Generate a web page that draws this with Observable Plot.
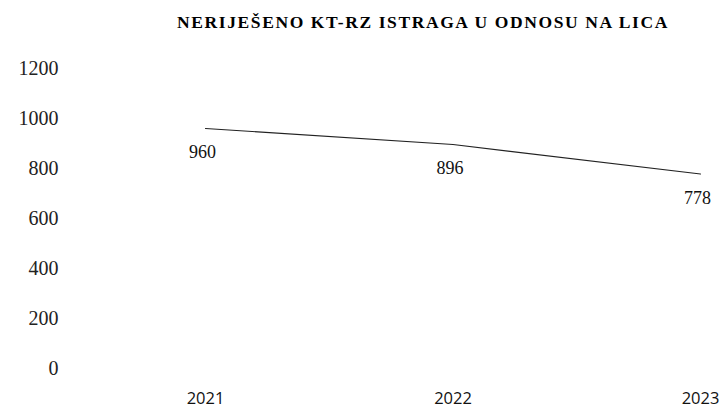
<!DOCTYPE html>
<html><head><meta charset="utf-8">
<script src="https://cdn.jsdelivr.net/npm/d3@7"></script>
<script src="https://cdn.jsdelivr.net/npm/@observablehq/plot@0.6"></script>
<style>
body{margin:0;background:#fff;width:725px;height:411px;overflow:hidden;position:relative}
#title{position:absolute;top:12px;left:0;width:725px;box-sizing:border-box;padding-left:121px;text-align:center;font-family:"Liberation Serif",serif;font-weight:bold;font-size:17.5px;line-height:20px;color:#000;letter-spacing:1.6px;white-space:nowrap}
</style></head><body>
<div id="chart"></div>
<div id="title">NERIJEŠENO KT-RZ ISTRAGA U ODNOSU NA LICA</div>
<script>
const years = [2021, 2022, 2023];
const values = [960, 896, 778];
const yTicks = [0, 200, 400, 600, 800, 1000, 1200];
const data = years.map((y, i) => ({year: y, value: values[i]}));
const chart = Plot.plot({
  width: 725, height: 411,
  marginTop: 68, marginBottom: 43, marginLeft: 205, marginRight: 25,
  x: {domain: [2021, 2023], axis: null},
  y: {domain: [0, 1200], axis: null},
  marks: [
    Plot.axisY({ticks: yTicks, tickSize: 0, tickPadding: 147, label: null, fontSize: 20, fontFamily: "Liberation Serif", fill: "#222", style: {letterSpacing: "1.5px"}, tickFormat: d => String(d)}),
    Plot.axisX({ticks: years, tickSize: 0, tickPadding: 24, label: null, fontSize: 16.5, fontFamily: "Open Sans", fill: "#111", style: {letterSpacing: "0.5px"}, tickFormat: d => String(d)}),
    Plot.line(data, {x: "year", y: "value", stroke: "#222", strokeWidth: 1.2}),
    Plot.text(data, {x: "year", y: "value", text: d => String(d.value), dy: 24, dx: -3, fontSize: 18, fontFamily: "Liberation Serif", fill: "#111"})
  ]
});
document.getElementById("chart").appendChild(chart);
</script>
</body></html>
